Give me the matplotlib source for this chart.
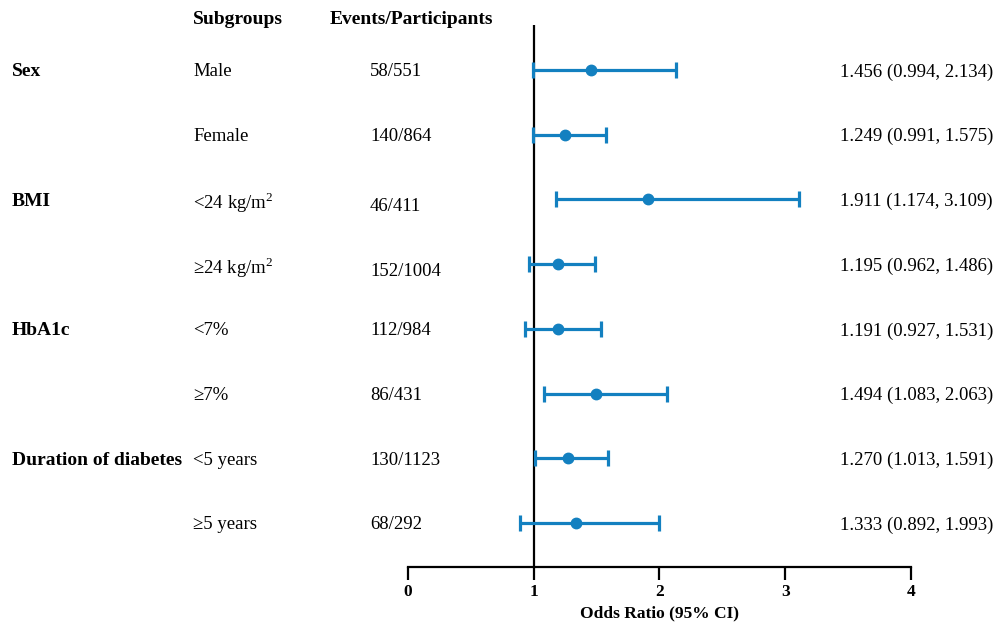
import matplotlib
matplotlib.use("Agg")
import matplotlib.pyplot as plt

plt.rcParams["font.family"] = ["Liberation Serif", "DejaVu Serif"]
plt.rcParams["mathtext.fontset"] = "custom"
plt.rcParams["mathtext.rm"] = "Liberation Serif"

# Data
groups = ["Sex", "", "BMI", "", "HbA1c", "", "Duration of diabetes", ""]
subgroups = ["Male", "Female", r"<24 kg/m$^{\mathrm{2}}$", r"≥24 kg/m$^{\mathrm{2}}$",
             "<7%", "≥7%", "<5 years", "≥5 years"]
events = ["58/551", "140/864", "46/411", "152/1004", "112/984", "86/431", "130/1123", "68/292"]
odds = [1.456, 1.249, 1.911, 1.195, 1.191, 1.494, 1.270, 1.333]
lower = [0.994, 0.991, 1.174, 0.962, 0.927, 1.083, 1.013, 0.892]
upper = [2.134, 1.575, 3.109, 1.486, 1.531, 2.063, 1.591, 1.993]

blue = "#1380c0"
fs = 13.5
fs_bold = 14

fig = plt.figure(figsize=(9.95, 6.29), dpi=100)
ax = fig.add_axes([408 / 995, 62 / 629, 503 / 995, 542 / 629])

rows = list(range(1, len(odds) + 1))
err_lo = [o - l for o, l in zip(odds, lower)]
err_hi = [u - o for o, u in zip(odds, upper)]
ax.errorbar(odds, rows, xerr=[err_lo, err_hi], fmt="o", color=blue, ecolor=blue,
            elinewidth=2.3, capsize=6, capthick=2.3, markersize=7.5, zorder=3)
ax.axvline(1, color="black", linewidth=1.6, zorder=2)

ax.set_xlim(0, 4)
ax.set_ylim(8.68, 0.305)
for side in ["top", "right", "left"]:
    ax.spines[side].set_visible(False)
ax.spines["bottom"].set_linewidth(1.6)
ax.set_yticks([])
ax.set_xticks([0, 1, 2, 3, 4])
ax.tick_params(axis="x", direction="out", length=9, width=1.6, labelsize=12.5, pad=3)
for lab in ax.get_xticklabels():
    lab.set_fontweight("bold")
ax.set_xlabel("Odds Ratio (95% CI)", fontsize=12.5, fontweight="bold", labelpad=4)

# text columns: x in figure pixels, y in data rows
trans = matplotlib.transforms.blended_transform_factory(fig.transFigure, ax.transData)


def px(x):
    return x / 995


head_y = 0.227
ax.text(px(193), head_y, "Subgroups", transform=trans, ha="left", va="center",
        fontsize=fs_bold, fontweight="bold", clip_on=False)
ax.text(px(330), head_y, "Events/Participants", transform=trans, ha="left",
        va="center", fontsize=fs_bold, fontweight="bold", clip_on=False)

for r, g, s, e, o, l, u in zip(rows, groups, subgroups, events, odds, lower, upper):
    shift = 0.08 if "kg" in s else 0.0
    if g:
        ax.text(px(12), r, g, transform=trans, ha="left", va="center_baseline",
                fontsize=fs_bold, fontweight="bold", clip_on=False)
    ax.text(px(193), r, s, transform=trans, ha="left", va="center_baseline", fontsize=fs,
            clip_on=False)
    ax.text(px(370), r + shift, e, transform=trans, ha="left", va="center_baseline",
            fontsize=fs, clip_on=False)
    ax.text(px(840), r, f"{o:.3f} ({l:.3f}, {u:.3f})", transform=trans, ha="left",
            va="center_baseline", fontsize=fs, clip_on=False)

fig.savefig("out.png", dpi=100)
